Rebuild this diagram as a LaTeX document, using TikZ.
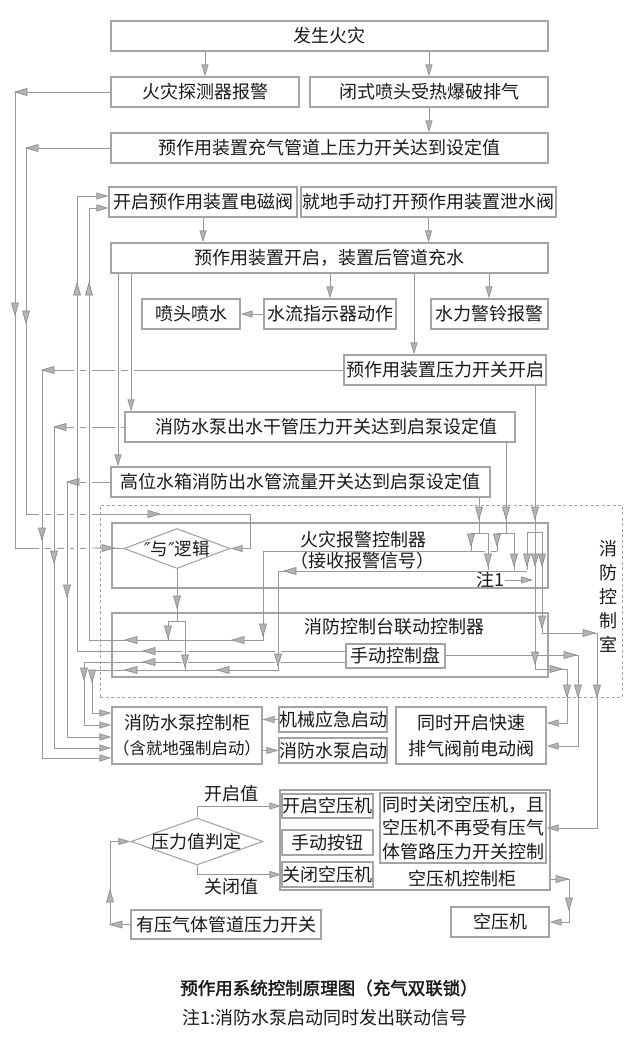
\documentclass[tikz,border=0pt]{standalone}
\usepackage{fontspec}
\setmainfont{Noto Sans CJK SC}[BoldFont={Noto Sans CJK SC},BoldFeatures={FakeBold=2}]
\newfontfamily\symfont{DejaVu Sans}
\usetikzlibrary{shapes.geometric,arrows.meta}
\definecolor{lc}{HTML}{999999}
\definecolor{bc}{HTML}{A4A4A4}
\definecolor{af}{HTML}{B4B4B4}
\definecolor{ao}{HTML}{8C8C8C}
\definecolor{tc}{HTML}{1A1A1A}
\newcommand\myfs{\fontsize{18}{22}\selectfont}
\tikzset{ahd/.pic={\filldraw[fill=af,draw=ao,line width=0.7pt] (0,0) -- (-12,3.5) -- (-12,-3.5) -- cycle;}}
\newcommand\arrD[2]{\pic[rotate=-90] at (#1,#2) {ahd};}
\newcommand\arrU[2]{\pic[rotate=90] at (#1,#2) {ahd};}
\newcommand\arrL[2]{\pic[rotate=180] at (#1,#2) {ahd};}
\newcommand\arrR[2]{\pic at (#1,#2) {ahd};}
\begin{document}
\begin{tikzpicture}[x=1pt,y=-1pt,
 box/.style={draw=bc,line width=1.1pt,inner sep=0pt,text=tc,font=\myfs},
 txt/.style={inner sep=0pt,text=tc,font=\myfs},
 ln/.style={draw=lc,line width=0.9pt},
 ar/.style={ln,-{Triangle[length=12pt,width=7pt,fill=af]}},
 dia/.style={draw=bc,line width=1.1pt,diamond,inner sep=0pt},
]
\useasboundingbox (0,0) rectangle (640,1041);
\fill[white] (0,0) rectangle (640,1041);

% ---------- boxes ----------
\node[box,minimum width=437pt,minimum height=30pt] (n1) at (329.5,36) {发生火灾};
\node[box,minimum width=188pt,minimum height=30pt] (n2) at (205,92) {火灾探测器报警};
\node[box,minimum width=238pt,minimum height=30pt] (n3) at (429,92) {闭式喷头受热爆破排气};
\node[box,minimum width=437pt,minimum height=30pt] (n4) at (329.5,148) {预作用装置充气管道上压力开关达到设定值};
\node[box,minimum width=188pt,minimum height=30pt] (n5) at (203,202) {开启预作用装置电磁阀};
\node[box,minimum width=255pt,minimum height=30pt] (n6) at (428.5,202) {就地手动打开预作用装置泄水阀};
\node[box,minimum width=437pt,minimum height=30pt] (n7) at (329.5,258) {预作用装置开启，装置后管道充水};
\node[box,minimum width=98pt,minimum height=30pt] (n8) at (191,314) {喷头喷水};
\node[box,minimum width=132pt,minimum height=30pt] (n9) at (330,314) {水流指示器动作};
\node[box,minimum width=117pt,minimum height=30pt] (n10) at (489.5,314) {水力警铃报警};
\node[box,minimum width=202pt,minimum height=30pt] (n11) at (445,370) {预作用装置压力开关开启};
\node[box,minimum width=390pt,minimum height=30pt] (n12) at (320,427) {\hspace{12pt}消防水泵出水干管压力开关达到启泵设定值};
\node[box,minimum width=379pt,minimum height=30pt] (n13) at (300.5,482) {高位水箱消防出水管流量开关达到启泵设定值};

\node[draw=bc,line width=0.9pt,dash pattern=on 3pt off 2.5pt,minimum width=522pt,minimum height=192pt,inner sep=0pt] (room) at (361,601) {};
\node[txt,align=center,font=\fontsize{18}{24}\selectfont] (roomt) at (608,596) {消\\防\\控\\制\\室};

\node[box,minimum width=436pt,minimum height=65pt] (n14) at (330,555.5) {};
\node[txt] (n14a) at (363,540) {火灾报警控制器};
\node[txt] (n14b) at (362,561) {（接收报警信号）};
\node[dia,minimum width=106pt,minimum height=40pt] (d1) at (177,548.5) {};
\node[txt,font=\fontsize{17.5}{20}\selectfont] (d1t) at (177,548.5) {{\symfont\itshape ″}与{\symfont\itshape ″}逻辑};
\node[txt] (note) at (490,580) {注1};

\node[box,minimum width=436pt,minimum height=64pt] (n15) at (330,645) {};
\node[txt] (n15t) at (394,627) {消防控制台联动控制器};
\node[box,minimum width=99pt,minimum height=24pt] (n16) at (395.5,656) {手动控制盘};

\node[box,minimum width=150pt,minimum height=57pt,align=center] (n17) at (187,735.5) {消防水泵控制柜\\[3pt]{\fontsize{16.4}{20}\selectfont （含就地强制启动）}};
\node[box,minimum width=108pt,minimum height=25pt] (n18) at (333,719.5) {机械应急启动};
\node[box,minimum width=108pt,minimum height=25pt] (n19) at (333,750.5) {消防水泵启动};
\node[box,minimum width=150pt,minimum height=57pt,align=center,font=\fontsize{18}{26}\selectfont] (n20) at (471,735.5) {同时开启快速\\排气阀前电动阀};

\node[box,minimum width=270pt,minimum height=100pt] (n21) at (415,840) {};
\node[txt] (n21t) at (462,879) {空压机控制柜};
\node[box,minimum width=91pt,minimum height=24pt] (n22) at (327.5,806) {开启空压机};
\node[box,minimum width=91pt,minimum height=25pt] (n23) at (327.5,842.5) {手动按钮};
\node[box,minimum width=91pt,minimum height=25pt] (n24) at (327.5,874.5) {关闭空压机};
\node[box,minimum width=166pt,minimum height=70pt,align=center,font=\fontsize{18}{23.5}\selectfont] (n25) at (463,828) {同时关闭空压机，且\\空压机不再受有压气\\体管路压力开关控制};
\node[box,minimum width=98pt,minimum height=30pt] (n26) at (500,922) {空压机};
\node[dia,minimum width=132pt,minimum height=47pt] (d2) at (197,841.5) {};
\node[txt] (d2t) at (196,842) {压力值判定};
\node[txt] (lopen) at (231,794) {开启值};
\node[txt] (lclose) at (231,887) {关闭值};
\node[box,minimum width=190pt,minimum height=29pt] (n27) at (226,924.5) {有压气体管道压力开关};

\node[txt,font=\fontsize{17.5}{20}\selectfont\bfseries] (cap) at (329,988) {预作用系统控制原理图（充气双联锁）};
\node[txt,font=\fontsize{18}{20}\selectfont] (foot) at (325,1018) {注1:消防水泵启动同时发出联动信号};

% ---------- top connectors ----------
\draw[ar] (n2.north |- n1.south) -- (n2.north);
\draw[ar] (n3.north |- n1.south) -- (n3.north);
\draw[ar] (n3.south) -- (n3.south |- n4.north);
\draw[ar] (203,0 |- n5.south) -- (203,0 |- n7.north);
\draw[ar] (n6.south) -- (n6.south |- n7.north);
\draw[ar] (n9.north |- n7.south) -- (n9.north);
\draw[ar] (489,0 |- n7.south) -- (489,0 |- n10.north);
\draw[ar] (n9.west) -- (n8.east);
\draw[ar] (414,0 |- n7.south) -- (414,0 |- n11.north);
\draw[ar] (131,0 |- n7.south) -- (131,0 |- n12.north);
\draw[ar] (118,0 |- n7.south) -- (118,0 |- n13.north);

% ---------- left signal lines ----------
\draw[ln] (n2.west) -- (15,92) -- (15,548) -- (39,548);
\draw[ln] (45,548) -- (51,548); \draw[ln] (57,548) -- (64,548);
\draw[ln] (70,548) -- (74,548); \draw[ln] (80,548) -- (86,548);
\draw[ln] (92,548) -- (d1.west);
\arrL{15}{92} \arrD{15}{315} \arrR{114}{548}

\draw[ln] (n4.west) -- (26,148) -- (26,514) -- (39,514);
\draw[ln] (45,514) -- (51,514); \draw[ln] (57,514) -- (64,514);
\draw[ln] (70,514) -- (74,514); \draw[ln] (80,514) -- (86,514);
\draw[ar] (92,514) -- (250,514) -- (250,548.5) -- (d1.east);
\arrL{26}{148} \arrD{26}{323} \arrR{160}{514}

\draw[ln] (n11.west) -- (134,370); \draw[ln] (128,370) -- (121,370);
\draw[ln] (115,370) -- (92,370); \draw[ln] (86,370) -- (80,370);
\draw[ar] (74,370) -- (42,370) -- (42,758) -- (n17.west |- 0,758);
\arrL{42}{370} \arrD{42}{540}

\draw[ln] (n12.west) -- (121,427); \draw[ln] (115,427) -- (92,427);
\draw[ln] (86,427) -- (80,427);
\draw[ar] (74,427) -- (54,427) -- (54,748) -- (n17.west |- 0,748);
\arrL{54}{427} \arrD{54}{563}

\draw[ln] (n13.west) -- (92,482); \draw[ln] (86,482) -- (80,482);
\draw[ar] (74,482) -- (67,482) -- (67,737) -- (n17.west |- 0,737);
\arrL{67}{482} \arrD{67}{597}

% manual panel to solenoid valve (upper input)
\draw[ln] (n16.west |- 0,651) -- (281,651); \draw[ln] (275,651) -- (188,651);
\draw[ar] (182,651) -- (77,651) -- (77,196) -- (n5.west |- 0,196);
\arrL{143}{651} \arrU{77}{283}

% fire alarm controller to solenoid valve (lower input)
\draw[ln] (n13.south -| 479,0) -- (479,533);
\draw[ln] (471,551) -- (471,533) -- (488,533) -- (488,570);
\arrD{479}{519} \arrD{471}{546} \arrD{488}{566}
\draw[ln] (497,551) -- (491,551); 
\draw[ar] (485,551) -- (263,551) -- (263,640) -- (89,640) -- (89,208) -- (n5.west |- 0,208);
\arrD{263}{636} \arrL{232}{640} \arrL{125}{640} \arrU{89}{283}

\draw[ln] (n12.south -| 506,0) -- (506,533);
\draw[ln] (497,551) -- (497,533) -- (514,533) -- (514,570);
\arrD{506}{519} \arrD{497}{546} \arrD{514}{566}

% AND logic output
\draw[ln] (d1.south) -- (177,621);
\draw[ln] (168,640) -- (168,621) -- (185,621) -- (185,670);
\arrD{177}{608} \arrD{168}{638} \arrD{185}{667}

% manual panel to pump cabinet
\draw[ln] (n16.west |- 0,662) -- (281,662); \draw[ln] (275,662) -- (188,662);
\draw[ar] (182,662) -- (84,662) -- (84,725) -- (n17.west |- 0,725);
\arrL{143}{662} \arrD{84}{680}

% pressure switch branch
\draw[ln] (n11.south -| 535,0) -- (535,532);
\draw[ln] (527,570) -- (527,532) -- (542,532);
\arrD{535}{519} \arrD{527}{566} \arrD{535}{566} \arrD{542}{566}

\draw[ar] (527,571) -- (278,571) -- (278,670) -- (92,670) -- (92,713) -- (n17.west |- 0,713);
\arrL{284}{571} \arrD{278}{666} \arrL{217}{670} \arrL{125}{670} \arrD{92}{682}

\draw[ar] (535,532) -- (535,669) -- (567,669) -- (567,723) -- (n20.east |- 0,723);
\arrD{535}{664} \arrR{562}{669} \arrD{567}{697}
\draw[ar] (542,532) -- (542,633) -- (597,633) -- (597,828) -- (n25.east |- 0,828);
\arrD{542}{628} \arrR{595}{633} \arrD{597}{697}
\draw[ln] (n16.east |- 0,655) -- (532,655);
\draw[ar] (538,655) -- (578,655) -- (578,746) -- (n20.east |- 0,746);
\arrR{576}{655} \arrD{578}{697}

\draw[ar] (505,580) -- (533,580);

% ---------- lower ----------
\draw[ar] (n18.west) -- (n17.east |- n18.west);
\draw[ar] (n17.east |- n19.west) -- (n19.west);
\draw[ar] (d2.north) -- (197,806) -- (n22.west);
\draw[ar] (d2.south) -- (197,874.5) -- (n24.west);
\draw[ar] (n27.west) -- (110,924.5) -- (110,841.5) -- (d2.west);
\arrL{110}{924.5} \arrU{110}{890}
\draw[ar] (n21.east |- 0,879) -- (569,879) -- (569,922) -- (n26.east);
\arrR{568}{879} \arrD{569}{910}
\end{tikzpicture}
\end{document}
